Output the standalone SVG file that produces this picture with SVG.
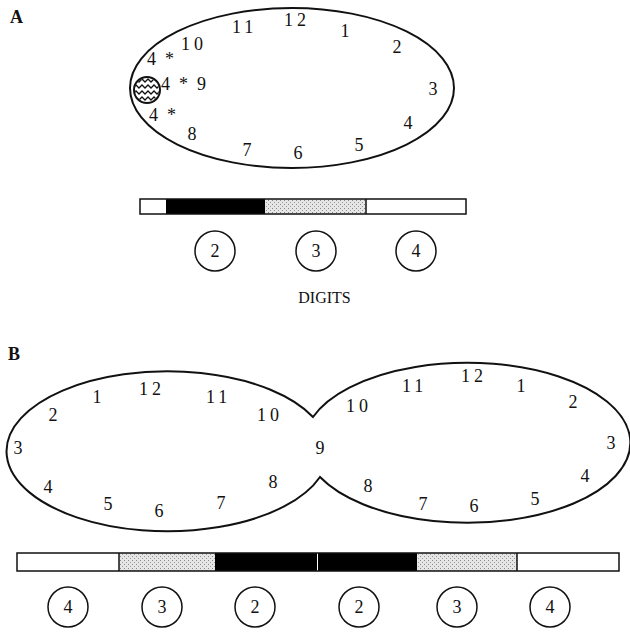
<svg xmlns="http://www.w3.org/2000/svg" width="630" height="632" viewBox="0 0 630 632">
<style>
  text { font-family: "Liberation Serif", "Times New Roman", serif; font-size: 18px; fill: #111; }
  .m { text-anchor: middle; }
  .ls { letter-spacing: 4px; }
  .lbl { font-weight: bold; font-size: 18px; }
  .outline { fill: none; stroke: #111; stroke-width: 2; }
  .bar { stroke: #111; stroke-width: 1.5; }
  .blk { fill: #000; }
  .wht { fill: #fff; }
  .stp { fill: url(#stipple); }
  .ring { fill: #fff; stroke: #111; stroke-width: 1.5; }
  .zig { fill: none; stroke: #111; stroke-width: 1.3; }
</style>
<defs>
  <pattern id="stipple" width="4" height="4" patternUnits="userSpaceOnUse">
    <rect width="4" height="4" fill="#e6e6e6"/>
    <rect x="0" y="0" width="1" height="1" fill="#888"/>
    <rect x="2" y="2" width="1" height="1" fill="#999"/>
  </pattern>
  <clipPath id="hc"><circle cx="147" cy="90" r="12"/></clipPath>
</defs>
<rect width="630" height="632" fill="#fff"/>

<g id="panelA">
  <text class="lbl" x="10" y="23">A</text>
  <g id="clockA">
    <ellipse class="outline" cx="292" cy="88" rx="162" ry="80"/>
    <text class="ls" x="284" y="26">12</text>
    <text class="ls" x="232" y="33">11</text>
    <text class="ls" x="181" y="50">10</text>
    <text x="147" y="65" xml:space="preserve">4  *</text>
    <text x="161" y="90" xml:space="preserve">4  *  9</text>
    <text x="149" y="121" xml:space="preserve">4  *</text>
    <text class="m" x="192" y="140">8</text>
    <text class="m" x="247" y="156">7</text>
    <text class="m" x="298" y="159">6</text>
    <text class="m" x="359" y="151">5</text>
    <text class="m" x="408" y="129">4</text>
    <text class="m" x="433" y="95">3</text>
    <text class="m" x="397" y="53">2</text>
    <text class="m" x="345" y="37">1</text>
  </g>
  <g id="hatchedSpot">
    <circle cx="147" cy="90" r="13" fill="#fff" stroke="#111" stroke-width="2"/>
    <g clip-path="url(#hc)">
      <polyline class="zig" points="133,82 136,79 139,82 142,79 145,82 148,79 151,82 154,79 157,82 160,79"/>
      <polyline class="zig" points="133,88 136,85 139,88 142,85 145,88 148,85 151,88 154,85 157,88 160,85"/>
      <polyline class="zig" points="133,94 136,91 139,94 142,91 145,94 148,91 151,94 154,91 157,94 160,91"/>
      <polyline class="zig" points="133,100 136,97 139,100 142,97 145,100 148,97 151,100 154,97 157,100 160,97"/>
    </g>
  </g>
  <g id="barA">
    <rect class="wht" x="140" y="199" width="26" height="15"/>
    <rect class="blk" x="166" y="199" width="99" height="15"/>
    <rect class="stp" x="265" y="199" width="101" height="15"/>
    <rect class="wht" x="366" y="199" width="100" height="15"/>
    <rect class="bar" x="140" y="199" width="326" height="15" fill="none"/>
    <line class="bar" x1="366" y1="199" x2="366" y2="214"/>
  </g>
  <g id="digitA2"><circle class="ring" cx="215" cy="251" r="20"/><text class="m" x="215" y="257">2</text></g>
  <g id="digitA3"><circle class="ring" cx="316" cy="251" r="20"/><text class="m" x="316" y="257">3</text></g>
  <g id="digitA4"><circle class="ring" cx="416" cy="251" r="20"/><text class="m" x="416" y="257">4</text></g>
  <text class="m" x="324.5" y="303" style="font-size:16px">DIGITS</text>
</g>

<g id="panelB">
  <text class="lbl" x="8" y="360">B</text>
  <g id="clockB">
    <path class="outline" d="M 313 417 A 161 80 0 1 0 320 477 A 163 80 0 1 0 313 417 Z"/>
    <text class="ls" x="139" y="395">12</text>
    <text class="m" x="97" y="403">1</text>
    <text class="m" x="53" y="421">2</text>
    <text class="m" x="18" y="454">3</text>
    <text class="m" x="48" y="493">4</text>
    <text class="m" x="108" y="510">5</text>
    <text class="m" x="159" y="517">6</text>
    <text class="m" x="221" y="509">7</text>
    <text class="m" x="273" y="488">8</text>
    <text class="m" x="320" y="454">9</text>
    <text class="ls" x="257" y="421">10</text>
    <text class="ls" x="206" y="403">11</text>
    <text class="ls" x="346" y="412">10</text>
    <text class="ls" x="402" y="392">11</text>
    <text class="ls" x="461" y="382">12</text>
    <text class="m" x="521" y="392">1</text>
    <text class="m" x="573" y="408">2</text>
    <text class="m" x="611" y="449">3</text>
    <text class="m" x="585" y="482">4</text>
    <text class="m" x="535" y="505">5</text>
    <text class="m" x="474" y="512">6</text>
    <text class="m" x="423" y="510">7</text>
    <text class="m" x="368" y="492">8</text>
  </g>
  <g id="barB">
    <rect class="wht" x="17" y="553" width="102" height="18"/>
    <rect class="stp" x="119" y="553" width="96" height="18"/>
    <rect class="blk" x="215" y="553" width="202" height="18"/>
    <line x1="317.5" y1="553" x2="317.5" y2="571" stroke="#fff" stroke-width="1"/>
    <rect class="stp" x="417" y="553" width="100" height="18"/>
    <rect class="wht" x="517" y="553" width="102" height="18"/>
    <rect class="bar" x="17" y="553" width="602" height="18" fill="none"/>
    <line class="bar" x1="119" y1="553" x2="119" y2="571"/>
    <line class="bar" x1="517" y1="553" x2="517" y2="571"/>
  </g>
  <g id="digitB4L"><circle class="ring" cx="68" cy="607" r="20"/><text class="m" x="68" y="613">4</text></g>
  <g id="digitB3L"><circle class="ring" cx="162" cy="607" r="20"/><text class="m" x="162" y="613">3</text></g>
  <g id="digitB2L"><circle class="ring" cx="255" cy="607" r="20"/><text class="m" x="255" y="613">2</text></g>
  <g id="digitB2R"><circle class="ring" cx="359" cy="607" r="20"/><text class="m" x="359" y="613">2</text></g>
  <g id="digitB3R"><circle class="ring" cx="457" cy="607" r="20"/><text class="m" x="457" y="613">3</text></g>
  <g id="digitB4R"><circle class="ring" cx="550" cy="607" r="20"/><text class="m" x="550" y="613">4</text></g>
</g>
</svg>
